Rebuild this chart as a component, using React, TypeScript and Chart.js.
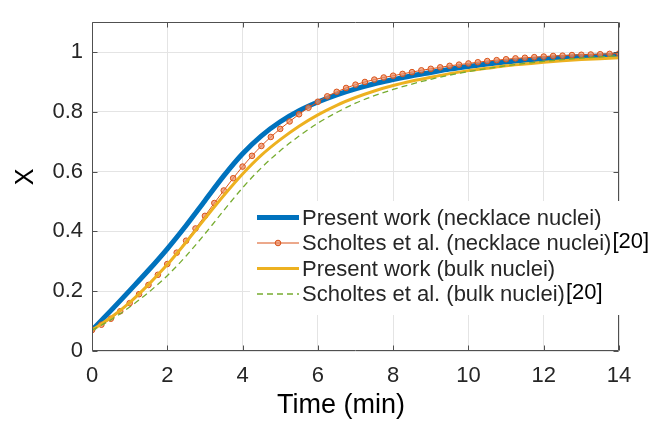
import React, { useEffect, useRef } from "react";
import { Chart, registerables } from "chart.js";

Chart.register(...registerables);

const FONT = '"Liberation Sans", Arial, Helvetica, sans-serif';

// time axis samples (min)
const timeHalf = [0, 0.5, 1, 1.5, 2, 2.5, 3, 3.5, 4, 4.5, 5, 5.5, 6, 6.5, 7, 7.5, 8, 8.5, 9, 9.5, 10, 10.5, 11, 11.5, 12, 12.5, 13, 13.5, 14];
const timeQuarter = [
  0, 0.25, 0.5, 0.75, 1, 1.25, 1.5, 1.75, 2, 2.25, 2.5, 2.75, 3, 3.25, 3.5, 3.75, 4, 4.25, 4.5, 4.75,
  5, 5.25, 5.5, 5.75, 6, 6.25, 6.5, 6.75, 7, 7.25, 7.5, 7.75, 8, 8.25, 8.5, 8.75, 9, 9.25, 9.5, 9.75,
  10, 10.25, 10.5, 10.75, 11, 11.25, 11.5, 11.75, 12, 12.25, 12.5, 12.75, 13, 13.25, 13.5, 13.75, 14,
];

// Present work (necklace nuclei)
const presentNecklace = [0.07, 0.135, 0.202, 0.27, 0.342, 0.42, 0.503, 0.586, 0.66, 0.72, 0.767, 0.804, 0.833, 0.857, 0.877, 0.894, 0.908, 0.921, 0.932, 0.943, 0.952, 0.96, 0.967, 0.973, 0.978, 0.982, 0.985, 0.987, 0.989];
// Scholtes et al. (necklace nuclei)
const scholtesNecklace = [
  0.07, 0.088, 0.108, 0.133, 0.16, 0.19, 0.221, 0.255, 0.291, 0.329, 0.369, 0.41, 0.452, 0.495, 0.537, 0.578, 0.617, 0.653, 0.686, 0.716,
  0.743, 0.768, 0.792, 0.814, 0.834, 0.852, 0.867, 0.88, 0.891, 0.9, 0.908, 0.915, 0.921, 0.927, 0.933, 0.939, 0.944, 0.949, 0.954, 0.958,
  0.962, 0.966, 0.97, 0.973, 0.976, 0.979, 0.981, 0.983, 0.985, 0.987, 0.988, 0.99, 0.991, 0.992, 0.993, 0.994, 0.995,
];
// Present work (bulk nuclei)
const presentBulk = [0.07, 0.112, 0.162, 0.222, 0.289, 0.364, 0.443, 0.52, 0.592, 0.655, 0.707, 0.752, 0.79, 0.822, 0.848, 0.87, 0.888, 0.903, 0.916, 0.928, 0.938, 0.946, 0.954, 0.96, 0.966, 0.971, 0.975, 0.978, 0.981];
// Scholtes et al. (bulk nuclei)
const scholtesBulk = [0.07, 0.104, 0.147, 0.196, 0.252, 0.318, 0.392, 0.47, 0.546, 0.613, 0.67, 0.719, 0.762, 0.798, 0.829, 0.854, 0.875, 0.893, 0.909, 0.923, 0.935, 0.945, 0.954, 0.962, 0.969, 0.975, 0.98, 0.984, 0.988];

const seriesLabels = [
  "Present work (necklace nuclei)",
  "Scholtes et al. (necklace nuclei)",
  "Present work (bulk nuclei)",
  "Scholtes et al. (bulk nuclei)",
];
const refTags = ["", "[20]", "", "[20]"];

const xTicks = [0, 2, 4, 6, 8, 10, 12, 14];
const yTicks = [0, 0.2, 0.4, 0.6, 0.8, 1];

const xTitle = "Time (min)";
const yTitle = "X";

const toPts = (xs: number[], ys: number[]) => ys.map((y, i) => ({ x: xs[i], y }));

const boxPlugin = {
  id: "matlabBox",
  afterDraw(chart: any) {
    const { ctx, chartArea: a, scales } = chart;
    const xs = scales.x;
    const ys = scales.y;
    ctx.save();
    // axes box
    ctx.strokeStyle = "#505050";
    ctx.lineWidth = 1;
    const L = Math.round(a.left) + 0.5;
    const R = Math.round(a.right) - 0.5;
    const T = Math.round(a.top) + 0.5;
    const B = Math.round(a.bottom) - 0.5;
    ctx.beginPath();
    ctx.moveTo(L, T);
    ctx.lineTo(R, T);
    ctx.lineTo(R, B);
    ctx.lineTo(L, B);
    ctx.closePath();
    ctx.stroke();
    // inner ticks
    const tl = 5;
    ctx.beginPath();
    xTicks.forEach((v) => {
      const p = Math.round(xs.getPixelForValue(v)) + 0.5;
      ctx.moveTo(p, B);
      ctx.lineTo(p, B - tl);
      ctx.moveTo(p, T);
      ctx.lineTo(p, T + tl);
    });
    yTicks.forEach((v) => {
      const p = Math.round(ys.getPixelForValue(v)) + 0.5;
      ctx.moveTo(L, p);
      ctx.lineTo(L + tl, p);
      ctx.moveTo(R, p);
      ctx.lineTo(R - tl, p);
    });
    ctx.stroke();

    // legend
    const lx = 250, ly = 201, lw = 377, lh = 114;
    ctx.fillStyle = "#ffffff";
    ctx.fillRect(lx, ly, lw, lh);
    const rowY = [217.5, 243, 268.5, 294];
    ctx.font = `22px ${FONT}`;
    ctx.textBaseline = "middle";
    ctx.textAlign = "left";
    chart.data.datasets.forEach((ds: any, i: number) => {
      const y = rowY[i];
      ctx.save();
      ctx.strokeStyle = ds.borderColor;
      ctx.lineWidth = ds.borderWidth;
      ctx.setLineDash(ds.borderDash || []);
      ctx.beginPath();
      ctx.moveTo(257, y);
      ctx.lineTo(299, y);
      ctx.stroke();
      ctx.setLineDash([]);
      if (ds.pointRadius > 0) {
        ctx.beginPath();
        ctx.arc(278, y, ds.pointRadius, 0, Math.PI * 2);
        ctx.fillStyle = ds.pointBackgroundColor;
        ctx.fill();
        ctx.lineWidth = ds.pointBorderWidth;
        ctx.strokeStyle = ds.pointBorderColor;
        ctx.stroke();
      }
      ctx.restore();
      ctx.fillStyle = "#262626";
      ctx.fillText(ds.label, 302, y + 1);
      if (refTags[i]) {
        const w = ctx.measureText(ds.label).width;
        ctx.fillStyle = "#000000";
        ctx.fillText(refTags[i], 302 + w + 1, y - 1);
      }
    });

    // axis titles
    ctx.fillStyle = "#000000";
    ctx.font = `27px ${FONT}`;
    ctx.textAlign = "center";
    ctx.textBaseline = "middle";
    ctx.fillText(xTitle, 341, 406);
    ctx.save();
    ctx.translate(25, 177);
    ctx.rotate(-Math.PI / 2);
    ctx.font = `25px ${FONT}`;
    ctx.fillText(yTitle, 0, 1);
    ctx.restore();
    ctx.restore();
  },
};

export default function App() {
  const ref = useRef<HTMLCanvasElement | null>(null);
  useEffect(() => {
    document.body.style.margin = "0";
    const canvas = ref.current;
    if (!canvas) return;
    const chart = new Chart(canvas, {
      type: "line",
      data: {
        datasets: [
          {
            label: seriesLabels[0],
            data: toPts(timeHalf, presentNecklace),
            borderColor: "#0072BD",
            borderWidth: 5,
            pointRadius: 0,
            cubicInterpolationMode: "monotone",
            order: 4,
          },
          {
            label: seriesLabels[1],
            data: toPts(timeQuarter, scholtesNecklace),
            borderColor: "#D95319",
            borderWidth: 1,
            pointRadius: 2.8,
            pointStyle: "circle",
            pointBorderColor: "#D95319",
            pointBackgroundColor: "rgba(235,140,100,0.7)",
            pointBorderWidth: 1,
            cubicInterpolationMode: "monotone",
            order: 3,
          },
          {
            label: seriesLabels[2],
            data: toPts(timeHalf, presentBulk),
            borderColor: "#EDB120",
            borderWidth: 3,
            pointRadius: 0,
            cubicInterpolationMode: "monotone",
            order: 2,
          },
          {
            label: seriesLabels[3],
            data: toPts(timeHalf, scholtesBulk),
            borderColor: "#77AC30",
            borderWidth: 1.3,
            borderDash: [6, 4],
            pointRadius: 0,
            cubicInterpolationMode: "monotone",
            order: 1,
          },
        ] as any,
      },
      options: {
        responsive: false,
        animation: false,
        events: [],
        layout: { padding: { top: 7, right: 33, left: 0, bottom: 0 } },
        plugins: { legend: { display: false }, tooltip: { enabled: false }, title: { display: false } },
        scales: {
          x: {
            type: "linear",
            min: 0,
            max: 14,
            afterBuildTicks: (s: any) => {
              s.ticks = xTicks.map((v) => ({ value: v }));
            },
            ticks: { font: { family: FONT, size: 22 }, color: "#262626", padding: 12, maxRotation: 0, autoSkip: false },
            grid: { color: "#e4e4e4", drawTicks: false },
            border: { display: false },
            afterFit: (s: any) => {
              s.height = 77;
            },
          },
          y: {
            type: "linear",
            min: 0,
            max: 1.1,
            afterBuildTicks: (s: any) => {
              s.ticks = yTicks.map((v) => ({ value: v }));
            },
            ticks: {
              font: { family: FONT, size: 22 },
              color: "#262626",
              padding: 9,
              autoSkip: false,
              callback: (v: any) => String(Number(Number(v).toFixed(1))),
            },
            grid: { color: "#e4e4e4", drawTicks: false },
            border: { display: false },
            afterFit: (s: any) => {
              s.width = 92;
            },
          },
        },
      },
      plugins: [boxPlugin],
    } as any);
    return () => chart.destroy();
  }, []);
  return (
    <div style={{ position: "absolute", left: 0, top: 0, width: 652, height: 428, background: "#fff" }}>
      <canvas ref={ref} width={652} height={428} style={{ width: 652, height: 428, display: "block" }} />
    </div>
  );
}
